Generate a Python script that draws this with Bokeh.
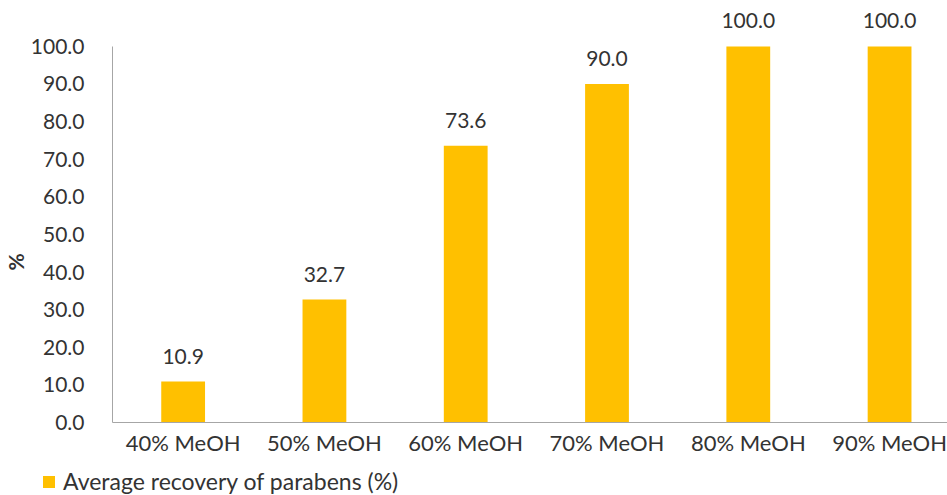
from bokeh.plotting import figure
from bokeh.models import (ColumnDataSource, Range1d, FixedTicker, LabelSet, Title,
                          Legend, LegendItem)
from bokeh.core.properties import value
from bokeh.embed import file_html
from bokeh.resources import INLINE

# Recovery data for each methanol fraction
categories = ["40% MeOH", "50% MeOH", "60% MeOH", "70% MeOH", "80% MeOH", "90% MeOH"]
recovery = [10.9, 32.7, 73.6, 90.0, 100.0, 100.0]
series_name = "Average recovery of parabens (%)"
y_ticks = [0, 10, 20, 30, 40, 50, 60, 70, 80, 90, 100]

FONT = "Lato"
TEXT = "#333333"
BAR = "#FFC000"
AXIS = "#A6A6A6"

xs = list(range(len(categories)))
src = ColumnDataSource(dict(
    x=xs,
    top=recovery,
    lbl=[f"{v:.1f}" for v in recovery],
))

p = figure(width=947, height=461, output_backend="svg", toolbar_location=None,
           x_range=Range1d(-0.5, 5.41), y_range=Range1d(0, 112.2),
           min_border_left=109, min_border_right=0, min_border_top=0,
           min_border_bottom=39)
p.outline_line_color = None
p.xgrid.visible = False
p.ygrid.visible = False
p.background_fill_color = "white"
p.border_fill_color = "white"

bars = p.vbar(x="x", top="top", width=0.31, bottom=0, source=src,
              fill_color=BAR, line_color=None)

labels = LabelSet(x="x", y="top", text="lbl", source=src,
                  text_align="center", text_baseline="alphabetic", y_offset=18,
                  text_font=value(FONT), text_font_size=value("21px"),
                  text_color=value(TEXT))
p.add_layout(labels)

# y axis
p.yaxis.ticker = FixedTicker(ticks=y_ticks)
p.yaxis.major_label_overrides = {t: f"{t:.1f}" for t in y_ticks}
p.yaxis.bounds = (0, 100)
p.yaxis.axis_line_color = AXIS
p.yaxis.major_tick_line_color = None
p.yaxis.minor_tick_line_color = None
p.yaxis.major_label_standoff = 22
p.yaxis.major_label_text_font = FONT
p.yaxis.major_label_text_font_size = "21px"
p.yaxis.major_label_text_color = TEXT

# x axis
p.xaxis.ticker = FixedTicker(ticks=xs)
p.xaxis.major_label_overrides = {i: c for i, c in enumerate(categories)}
p.xaxis.axis_line_color = AXIS
p.xaxis.major_tick_line_color = None
p.xaxis.minor_tick_line_color = None
p.xaxis.major_label_standoff = 0
p.xaxis.major_label_text_font = FONT
p.xaxis.major_label_text_font_size = "22px"
p.xaxis.major_label_text_color = TEXT

# y axis title, placed over the 0-100 span
p.add_layout(Title(text="%", align="left", offset=152,
                   text_font=FONT, text_font_size="21px",
                   text_font_style="bold", text_color=TEXT,
                   standoff=0), "left")

# legend strip underneath the chart
leg = figure(width=947, height=34, output_backend="svg", toolbar_location=None,
             x_range=Range1d(-100, -99), y_range=Range1d(0, 1),
             min_border=0, x_axis_type=None, y_axis_type=None)
leg.outline_line_color = None
leg.xgrid.visible = False
leg.ygrid.visible = False
swatch = leg.vbar(x="x", top="top", width=0.31, bottom=0, source=src,
                  fill_color=BAR, line_color=None)
legend = Legend(items=[LegendItem(label=series_name, renderers=[swatch])],
                location=(41, 0), padding=0, margin=0, spacing=0,
                glyph_width=15, glyph_height=15, label_standoff=7,
                label_height=24,
                label_text_font=FONT, label_text_font_size="23px",
                label_text_color=TEXT, border_line_color=None,
                background_fill_alpha=0)
leg.add_layout(legend)

open("out.html", "w").write(file_html([p, leg], INLINE))
